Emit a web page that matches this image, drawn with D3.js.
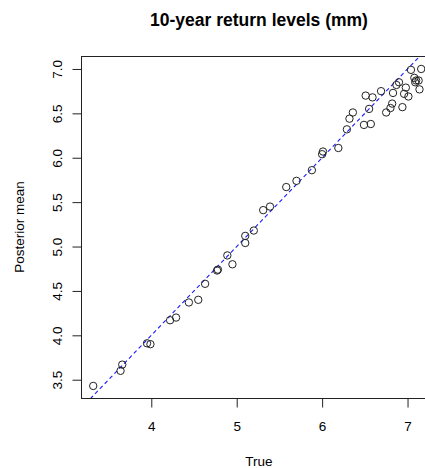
<!DOCTYPE html>
<html lang="en">
<head>
  <meta charset="utf-8">
  <title>10-year return levels</title>
  <script src="https://d3js.org/d3.v7.min.js"></script>
  <style>
    body { margin: 0; background: #fff; }
    svg text { font-family: "Liberation Sans", Arial, sans-serif; fill: #000; }
  </style>
</head>
<body>
<div class="chart"></div>
<script>
  // true values vs posterior means
  var trueVals = [3.32, 3.64, 3.66, 3.95, 3.99, 4.22, 4.29, 4.44, 4.55, 4.63,
                  4.77, 4.78, 4.89, 4.95, 5.10, 5.10, 5.20, 5.31, 5.39, 5.58,
                  5.70, 5.88, 6.00, 6.01, 6.19, 6.29, 6.32, 6.36, 6.49, 6.57,
                  6.55, 6.51, 6.59, 6.69, 6.75, 6.80, 6.82, 6.94, 6.83, 6.87,
                  6.90, 6.98, 6.96, 7.01, 7.04, 7.16, 7.08, 7.10, 7.13, 7.09, 7.14];
  var postMean = [3.43, 3.60, 3.67, 3.91, 3.90, 4.17, 4.20, 4.37, 4.40, 4.58,
                  4.73, 4.74, 4.90, 4.80, 5.04, 5.12, 5.18, 5.41, 5.45, 5.67,
                  5.74, 5.86, 6.04, 6.07, 6.11, 6.32, 6.44, 6.51, 6.37, 6.38,
                  6.55, 6.70, 6.68, 6.75, 6.51, 6.56, 6.61, 6.57, 6.73, 6.82,
                  6.85, 6.79, 6.72, 6.69, 6.99, 7.00, 6.90, 6.87, 6.87, 6.85, 6.77];
  var xTicks = [4, 5, 6, 7];
  var yTicks = [3.5, 4.0, 4.5, 5.0, 5.5, 6.0, 6.5, 7.0];

  var W = 425, H = 468;
  var pl = 81, pt = 56, pb = 398, pr = 437;

  var x = d3.scaleLinear().domain([3.177, 7.345]).range([pl, pr]);
  var y = d3.scaleLinear().domain([3.294, 7.146]).range([pb, pt]);

  var svg = d3.select(".chart").append("svg")
    .attr("width", W)
    .attr("height", H);

  svg.append("defs").append("clipPath")
    .attr("id", "plotclip")
    .append("rect")
    .attr("x", pl).attr("y", pt)
    .attr("width", pr - pl).attr("height", pb - pt);

  // box
  svg.append("rect")
    .attr("x", pl + 0.5).attr("y", pt + 0.5)
    .attr("width", pr - pl).attr("height", pb - pt)
    .style("fill", "none")
    .style("stroke", "#222")
    .style("stroke-width", 1);

  // axes
  var xAxis = svg.append("g")
    .attr("transform", "translate(0," + (pb + 0.5) + ")")
    .call(d3.axisBottom(x).tickValues(xTicks).tickFormat(d3.format("d")).tickSize(9).tickPadding(14));
  xAxis.select(".domain").remove();

  var yAxis = svg.append("g")
    .attr("transform", "translate(" + (pl + 0.5) + ",0)")
    .call(d3.axisLeft(y).tickValues(yTicks).tickFormat(d3.format(".1f")).tickSize(9));
  yAxis.select(".domain").remove();

  svg.selectAll(".tick line").style("stroke", "#222");
  xAxis.selectAll("text").style("font-size", "13.5px");
  yAxis.selectAll("text")
    .style("font-size", "13.5px")
    .attr("x", null).attr("dy", null)
    .attr("text-anchor", "middle")
    .attr("transform", "translate(-19.5,0) rotate(-90)");

  // y = x reference line
  var lo = 3.0, hi = 7.5;
  svg.append("line")
    .attr("clip-path", "url(#plotclip)")
    .attr("x1", x(lo)).attr("y1", y(lo))
    .attr("x2", x(hi)).attr("y2", y(hi))
    .style("stroke", "#1a1aff")
    .style("stroke-width", 1.1)
    .style("stroke-dasharray", "4,3");

  // points
  svg.append("g").selectAll("circle")
    .data(trueVals)
    .enter().append("circle")
    .attr("cx", function(d) { return x(d); })
    .attr("cy", function(d, i) { return y(postMean[i]); })
    .attr("r", 3.7)
    .style("fill", "none")
    .style("stroke", "#222")
    .style("stroke-width", 1);

  // labels
  svg.append("text")
    .attr("x", 259).attr("y", 26)
    .attr("text-anchor", "middle")
    .style("font-size", "17.5px")
    .style("font-weight", "bold")
    .text("10-year return levels (mm)");

  svg.append("text")
    .attr("x", 259).attr("y", 466)
    .attr("text-anchor", "middle")
    .style("font-size", "13.5px")
    .text("True");

  svg.append("text")
    .attr("transform", "translate(24," + ((pt + pb) / 2) + ") rotate(-90)")
    .attr("text-anchor", "middle")
    .style("font-size", "13.5px")
    .text("Posterior mean");
</script>
</body>
</html>
